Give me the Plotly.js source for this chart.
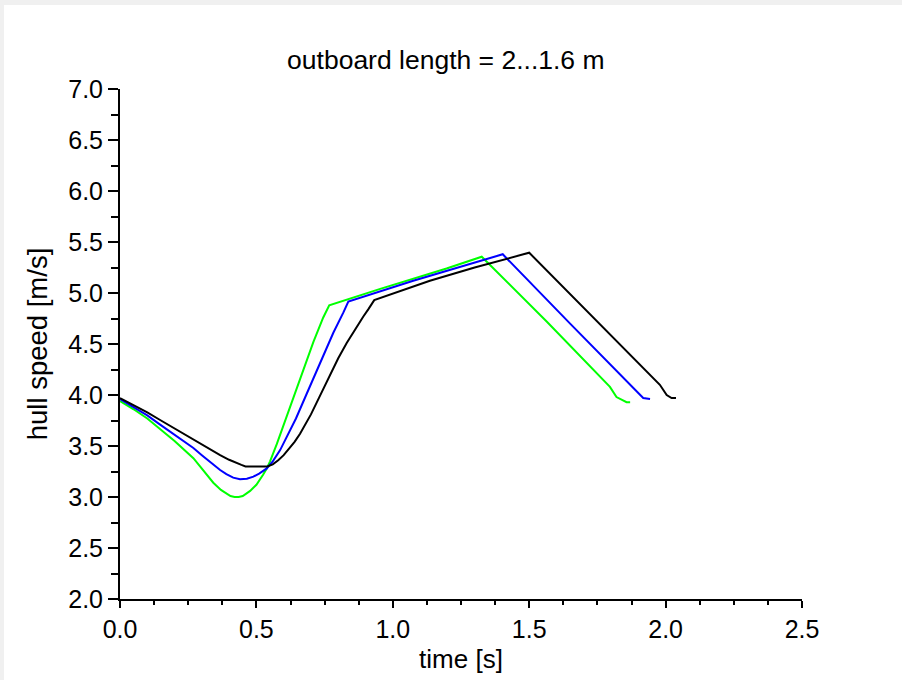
<!DOCTYPE html>
<html>
<head>
<meta charset="utf-8">
<script src="https://cdn.plot.ly/plotly-3.0.1.min.js"></script>
<style>
  html, body { margin: 0; padding: 0; background: #f0f0f0; width: 902px; height: 680px; overflow: hidden; }
  #chart { position: absolute; left: 4px; top: 5px; width: 898px; height: 675px; background: #ffffff; }
</style>
</head>
<body>
<div id="chart"></div>
<script>
// Data
const blackT = [0, 0.05, 0.10, 0.147, 0.20, 0.269, 0.30, 0.34, 0.367, 0.40, 0.428, 0.445, 0.46, 0.54, 0.56, 0.58, 0.60, 0.62, 0.64, 0.66, 0.68, 0.70, 0.72, 0.745, 0.77, 0.80, 0.831, 0.86, 0.892, 0.91, 0.932, 1.136, 1.30, 1.50, 1.833, 1.979, 2.004, 2.022, 2.038];
const blackV = [3.97, 3.90, 3.83, 3.755, 3.67, 3.565, 3.515, 3.45, 3.41, 3.365, 3.33, 3.315, 3.30, 3.30, 3.32, 3.36, 3.41, 3.47, 3.54, 3.62, 3.71, 3.81, 3.92, 4.06, 4.20, 4.36, 4.51, 4.64, 4.77, 4.84, 4.93, 5.12, 5.25, 5.395, 4.49, 4.10, 4.00, 3.97, 3.97];

const blueT = [0, 0.05, 0.10, 0.147, 0.20, 0.269, 0.30, 0.34, 0.367, 0.39, 0.415, 0.44, 0.465, 0.489, 0.51, 0.538, 0.56, 0.587, 0.61, 0.645, 0.684, 0.733, 0.782, 0.819, 0.837, 1.075, 1.403, 1.65, 1.906, 1.918, 1.943];
const blueV = [3.96, 3.88, 3.80, 3.71, 3.61, 3.48, 3.41, 3.32, 3.265, 3.225, 3.19, 3.175, 3.18, 3.20, 3.23, 3.28, 3.35, 3.46, 3.58, 3.77, 4.01, 4.31, 4.61, 4.81, 4.915, 5.12, 5.38, 4.70, 4.00, 3.97, 3.96];

const greenT = [0, 0.05, 0.10, 0.147, 0.20, 0.269, 0.30, 0.342, 0.37, 0.391, 0.405, 0.42, 0.435, 0.45, 0.477, 0.50, 0.513, 0.525, 0.538, 0.55, 0.575, 0.599, 0.63, 0.66, 0.709, 0.745, 0.767, 0.954, 1.197, 1.326, 1.564, 1.796, 1.82, 1.857, 1.87];
const greenV = [3.94, 3.86, 3.77, 3.67, 3.55, 3.38, 3.28, 3.14, 3.07, 3.03, 3.01, 3.00, 3.00, 3.01, 3.06, 3.12, 3.17, 3.22, 3.28, 3.35, 3.52, 3.70, 3.94, 4.17, 4.52, 4.76, 4.88, 5.04, 5.24, 5.356, 4.72, 4.08, 3.98, 3.93, 3.93];

const titleText = 'outboard length = 2...1.6 m';
const xTitle = 'time [s]';
const yTitle = 'hull speed [m/s]';

const FONT = 'Liberation Sans, Arial, Helvetica, sans-serif';

const traces = [
  { x: greenT, y: greenV, mode: 'lines', line: { color: '#00ff00', width: 2 }, name: 'green' },
  { x: blueT, y: blueV, mode: 'lines', line: { color: '#0000ff', width: 2 }, name: 'blue' },
  { x: blackT, y: blackV, mode: 'lines', line: { color: '#000000', width: 2 }, name: 'black' }
];

const layout = {
  width: 898,
  height: 675,
  paper_bgcolor: '#ffffff',
  plot_bgcolor: '#ffffff',
  showlegend: false,
  margin: { l: 116, r: 100, t: 84, b: 81 },
  font: { family: FONT, size: 25, color: '#000000' },
  title: {
    text: titleText,
    font: { family: FONT, size: 26.5, color: '#000000' },
    xref: 'container', yref: 'container',
    x: 0.492, xanchor: 'center',
    y: 1 - 55 / 675, yanchor: 'middle'
  },
  xaxis: {
    range: [0, 2.5],
    dtick: 0.5, tick0: 0,
    tickformat: '.1f',
    showline: true, linecolor: '#000000', linewidth: 2,
    ticks: 'outside', ticklen: 7, tickwidth: 2, tickcolor: '#000000',
    minor: { dtick: 0.125, ticks: 'outside', ticklen: 4, tickwidth: 2, tickcolor: '#000000', showgrid: false },
    showgrid: false, zeroline: false,
    tickfont: { family: FONT, size: 25, color: '#000000' },
    title: { text: xTitle, font: { family: FONT, size: 26, color: '#000000' }, standoff: 8 },
    fixedrange: true
  },
  yaxis: {
    range: [2, 7],
    dtick: 0.5, tick0: 0,
    tickformat: '.1f',
    showline: true, linecolor: '#000000', linewidth: 2,
    ticks: 'outside', ticklen: 10, tickwidth: 2, tickcolor: '#000000',
    minor: { dtick: 0.25, ticks: 'outside', ticklen: 7, tickwidth: 2, tickcolor: '#000000', showgrid: false },
    showgrid: false, zeroline: false,
    tickfont: { family: FONT, size: 25, color: '#000000' },
    title: { text: yTitle, font: { family: FONT, size: 27.5, color: '#000000' }, standoff: 13 },
    fixedrange: true
  }
};

Plotly.newPlot('chart', traces, layout, { displayModeBar: false, staticPlot: true });
</script>
</body>
</html>
